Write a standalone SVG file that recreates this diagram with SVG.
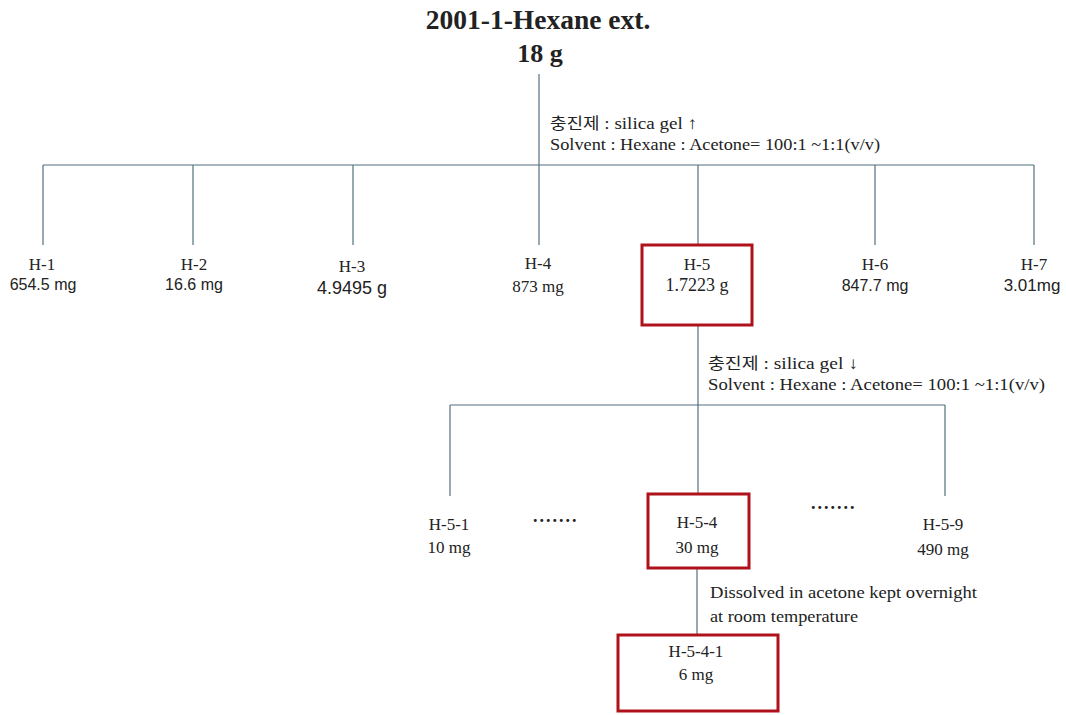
<svg xmlns="http://www.w3.org/2000/svg" width="1066" height="715" viewBox="0 0 1066 715">
<style>
.ln{stroke:#52707f;stroke-width:1.2;fill:none}
.box{fill:none;stroke:#b0121c;stroke-width:3}
.t{font-family:"Liberation Serif","Times New Roman",serif;fill:#222;text-anchor:middle}
.s{font-family:"Liberation Sans",Arial,sans-serif;fill:#222;text-anchor:middle}
.ann{font-family:"Liberation Serif","Noto Sans CJK KR",serif;fill:#222;font-size:17px}
.kr{font-family:"Noto Sans CJK KR",sans-serif}
.dots{font-family:"Liberation Serif",serif;fill:#222;font-size:18px;font-weight:bold;letter-spacing:2px}
</style>
<rect width="1066" height="715" fill="#fff"/>
<g id="connectors">
<line class="ln" x1="539" y1="74" x2="539" y2="165"/>
<line class="ln" x1="43" y1="165" x2="1034" y2="165"/>
<line class="ln" x1="43" y1="165" x2="43" y2="245"/>
<line class="ln" x1="193" y1="165" x2="193" y2="245"/>
<line class="ln" x1="353" y1="165" x2="353" y2="245"/>
<line class="ln" x1="539" y1="165" x2="539" y2="245"/>
<line class="ln" x1="698" y1="165" x2="698" y2="245"/>
<line class="ln" x1="875" y1="165" x2="875" y2="245"/>
<line class="ln" x1="1034" y1="165" x2="1034" y2="245"/>
<line class="ln" x1="698" y1="325" x2="698" y2="405"/>
<line class="ln" x1="450" y1="405" x2="945" y2="405"/>
<line class="ln" x1="450" y1="405" x2="450" y2="496"/>
<line class="ln" x1="698" y1="405" x2="698" y2="494"/>
<line class="ln" x1="945" y1="405" x2="945" y2="496"/>
<line class="ln" x1="697" y1="568" x2="697" y2="635"/>
</g>
<g id="root">
<text class="t" x="538" y="29" font-size="27.5" font-weight="bold">2001-1-Hexane ext.</text>
<text class="t" x="540" y="62" font-size="26" font-weight="bold">18 g</text>
</g>
<g id="ann1">
<text class="ann" x="550" y="129" textLength="147" lengthAdjust="spacingAndGlyphs"><tspan class="kr" font-size="16">충진제</tspan> : silica gel ↑</text>
<text class="ann" x="550" y="150" textLength="330" lengthAdjust="spacingAndGlyphs">Solvent : Hexane : Acetone= 100:1 ~1:1(v/v)</text>
</g>
<g id="H-1">
<text class="t" x="42" y="270" font-size="17">H-1</text>
<text class="s" x="43" y="290" font-size="16">654.5 mg</text>
</g>
<g id="H-2">
<text class="t" x="194" y="270" font-size="17">H-2</text>
<text class="s" x="194" y="290" font-size="16">16.6 mg</text>
</g>
<g id="H-3">
<text class="t" x="352" y="272" font-size="17">H-3</text>
<text class="s" x="352" y="294" font-size="18">4.9495 g</text>
</g>
<g id="H-4">
<text class="t" x="538" y="269" font-size="17">H-4</text>
<text class="t" x="538" y="292" font-size="17">873 mg</text>
</g>
<g id="H-5">
<rect class="box" x="642" y="245" width="110" height="80"/>
<text class="t" x="697" y="270" font-size="17">H-5</text>
<text class="t" x="697" y="291" font-size="18">1.7223 g</text>
</g>
<g id="H-6">
<text class="t" x="875" y="270" font-size="17">H-6</text>
<text class="s" x="875" y="291" font-size="16">847.7 mg</text>
</g>
<g id="H-7">
<text class="t" x="1034" y="270" font-size="17">H-7</text>
<text class="s" x="1032" y="291" font-size="17">3.01mg</text>
</g>
<g id="ann2">
<text class="ann" x="708" y="369" textLength="150" lengthAdjust="spacingAndGlyphs"><tspan class="kr" font-size="16">충진제</tspan> : silica gel ↓</text>
<text class="ann" x="708" y="390" textLength="337" lengthAdjust="spacingAndGlyphs">Solvent : Hexane : Acetone= 100:1 ~1:1(v/v)</text>
</g>
<g id="H-5-1">
<text class="t" x="449" y="530" font-size="17">H-5-1</text>
<text class="t" x="449" y="553" font-size="17">10 mg</text>
</g>
<g id="dots1"><text class="dots" x="533" y="522">.......</text></g>
<g id="H-5-4">
<rect class="box" x="648" y="494" width="101" height="74"/>
<text class="t" x="697" y="528" font-size="17">H-5-4</text>
<text class="t" x="697" y="553" font-size="17">30 mg</text>
</g>
<g id="dots2"><text class="dots" x="811" y="509">.......</text></g>
<g id="H-5-9">
<text class="t" x="943" y="530" font-size="17">H-5-9</text>
<text class="t" x="943" y="555" font-size="17">490 mg</text>
</g>
<g id="ann3">
<text class="ann" x="710" y="598" textLength="267" lengthAdjust="spacingAndGlyphs">Dissolved in acetone kept overnight</text>
<text class="ann" x="710" y="622" textLength="148" lengthAdjust="spacingAndGlyphs">at room temperature</text>
</g>
<g id="H-5-4-1">
<rect class="box" x="618" y="635" width="160" height="76"/>
<text class="t" x="696" y="657" font-size="17">H-5-4-1</text>
<text class="t" x="696" y="680" font-size="17">6 mg</text>
</g>
</svg>
